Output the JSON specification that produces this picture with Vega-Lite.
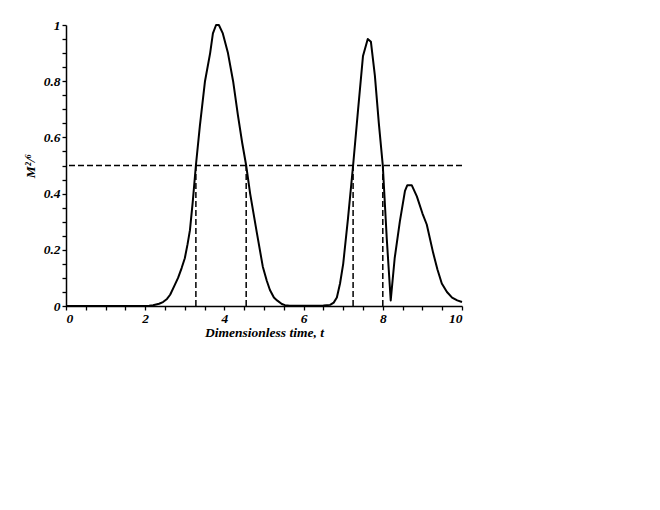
{
  "$schema": "https://vega.github.io/schema/vega-lite/v6.json",
  "width": 396,
  "height": 281,
  "autosize": "none",
  "padding": {"left": 66, "top": 25, "right": 198, "bottom": 204},
  "background": "white",
  "config": {
    "view": {"stroke": null},
    "axis": {
      "grid": false,
      "domainColor": "black",
      "domainWidth": 1.5,
      "ticks": true,
      "tickColor": "black",
      "tickWidth": 1.3,
      "tickSize": 4,
      "labelFont": "Liberation Serif",
      "labelFontWeight": "bold",
      "labelFontStyle": "italic",
      "labelFontSize": 13.5,
      "labelColor": "black",
      "titleFont": "Liberation Serif",
      "titleFontWeight": "bold",
      "titleFontStyle": "italic",
      "titleFontSize": 13.5,
      "titleColor": "black"
    }
  },
  "datasets": {
    "curve": [
      {"t": 0, "v": 0}, {"t": 1, "v": 0}, {"t": 2, "v": 0}, {"t": 2.1, "v": 0.001},
      {"t": 2.2, "v": 0.003}, {"t": 2.35, "v": 0.008}, {"t": 2.45, "v": 0.014},
      {"t": 2.55, "v": 0.025}, {"t": 2.63, "v": 0.04}, {"t": 2.73, "v": 0.07},
      {"t": 2.83, "v": 0.1}, {"t": 2.92, "v": 0.135}, {"t": 3.0, "v": 0.17},
      {"t": 3.07, "v": 0.22}, {"t": 3.13, "v": 0.27}, {"t": 3.2, "v": 0.37},
      {"t": 3.28, "v": 0.5}, {"t": 3.38, "v": 0.64}, {"t": 3.51, "v": 0.8},
      {"t": 3.64, "v": 0.9}, {"t": 3.71, "v": 0.97}, {"t": 3.79, "v": 1.0},
      {"t": 3.86, "v": 1.0}, {"t": 3.96, "v": 0.97}, {"t": 4.09, "v": 0.9},
      {"t": 4.22, "v": 0.8}, {"t": 4.34, "v": 0.68}, {"t": 4.45, "v": 0.58},
      {"t": 4.55, "v": 0.5}, {"t": 4.65, "v": 0.4}, {"t": 4.82, "v": 0.26},
      {"t": 4.97, "v": 0.14}, {"t": 5.07, "v": 0.09}, {"t": 5.15, "v": 0.057},
      {"t": 5.25, "v": 0.03}, {"t": 5.33, "v": 0.02}, {"t": 5.45, "v": 0.007},
      {"t": 5.53, "v": 0.003}, {"t": 5.65, "v": 0.001}, {"t": 6.0, "v": 0.001},
      {"t": 6.5, "v": 0.002}, {"t": 6.67, "v": 0.004}, {"t": 6.76, "v": 0.012},
      {"t": 6.84, "v": 0.03}, {"t": 6.92, "v": 0.08}, {"t": 7.0, "v": 0.15},
      {"t": 7.12, "v": 0.31}, {"t": 7.25, "v": 0.5}, {"t": 7.37, "v": 0.69},
      {"t": 7.5, "v": 0.89}, {"t": 7.62, "v": 0.95}, {"t": 7.7, "v": 0.94},
      {"t": 7.8, "v": 0.82}, {"t": 7.9, "v": 0.65}, {"t": 8.0, "v": 0.5},
      {"t": 8.1, "v": 0.24}, {"t": 8.2, "v": 0.02}, {"t": 8.3, "v": 0.17},
      {"t": 8.43, "v": 0.3}, {"t": 8.56, "v": 0.41}, {"t": 8.62, "v": 0.43},
      {"t": 8.73, "v": 0.43}, {"t": 8.86, "v": 0.39}, {"t": 9.0, "v": 0.33},
      {"t": 9.11, "v": 0.29}, {"t": 9.27, "v": 0.19}, {"t": 9.38, "v": 0.13},
      {"t": 9.49, "v": 0.08}, {"t": 9.62, "v": 0.05}, {"t": 9.75, "v": 0.03},
      {"t": 9.88, "v": 0.02}, {"t": 10, "v": 0.014}
    ],
    "verticals": [
      {"t": 3.28, "v0": 0, "v1": 0.5},
      {"t": 4.55, "v0": 0, "v1": 0.5},
      {"t": 7.25, "v0": 0, "v1": 0.5},
      {"t": 8.0, "v0": 0, "v1": 0.5}
    ],
    "level": [{"v": 0.5}]
  },
  "layer": [
    {
      "data": {"name": "curve"},
      "mark": {"type": "line", "color": "black", "strokeWidth": 2, "strokeJoin": "round"},
      "encoding": {
        "x": {
          "field": "t",
          "type": "quantitative",
          "scale": {"domain": [0, 10], "nice": false, "zero": false},
          "axis": {
            "title": "Dimensionless time, t",
            "tickCount": 20,
            "labelOverlap": false,
            "labelExpr": "abs(datum.value / 2 - round(datum.value / 2)) < 0.001 ? format(datum.value, '~g') : ''",
            "labelPadding": 1,
            "titlePadding": 1
          }
        },
        "y": {
          "field": "v",
          "type": "quantitative",
          "scale": {"domain": [0, 1], "nice": false},
          "axis": {
            "title": "M²/⁶",
            "tickCount": 20,
            "labelOverlap": false,
            "labelExpr": "abs(datum.value * 5 - round(datum.value * 5)) < 0.001 ? format(datum.value, '~g') : ''",
            "labelPadding": 2,
            "titlePadding": 6
          }
        }
      }
    },
    {
      "data": {"name": "level"},
      "mark": {"type": "rule", "strokeDash": [6, 3], "strokeWidth": 1.5, "color": "black"},
      "encoding": {
        "y": {"field": "v", "type": "quantitative"}
      }
    },
    {
      "data": {"name": "verticals"},
      "mark": {"type": "rule", "strokeDash": [6, 3], "strokeWidth": 1.5, "color": "black"},
      "encoding": {
        "x": {"field": "t", "type": "quantitative"},
        "y": {"field": "v0", "type": "quantitative"},
        "y2": {"field": "v1"}
      }
    }
  ]
}
